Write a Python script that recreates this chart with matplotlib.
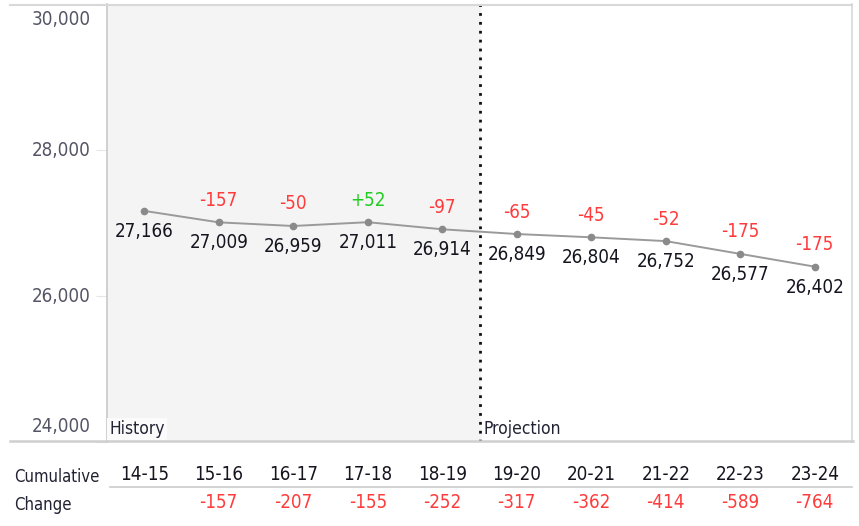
import matplotlib
matplotlib.use("Agg")
import matplotlib.pyplot as plt
from matplotlib import font_manager
from matplotlib.lines import Line2D
from matplotlib.transforms import blended_transform_factory, ScaledTranslation

years = ["14-15", "15-16", "16-17", "17-18", "18-19",
         "19-20", "20-21", "21-22", "22-23", "23-24"]
enrollment = [27166, 27009, 26959, 27011, 26914,
              26849, 26804, 26752, 26577, 26402]
change_labels = ["", "-157", "-50", "+52", "-97",
                 "-65", "-45", "-52", "-175", "-175"]
cumulative = ["", "-157", "-207", "-155", "-252",
              "-317", "-362", "-414", "-589", "-764"]
yticks = [24000, 26000, 28000, 30000]
n_history = 5

names = {f.name for f in font_manager.fontManager.ttflist}
if "Liberation Sans Narrow" in names:
    font = "Liberation Sans Narrow"
    stretch = "normal"
else:
    font = "DejaVu Sans"
    stretch = "condensed"
plt.rcParams["font.family"] = font
plt.rcParams["font.stretch"] = stretch

RED = "#ff3b3b"
GREEN = "#22cc22"
DARK = "#15151f"

fig = plt.figure(figsize=(8.59, 5.26), dpi=100)
W, H = 859, 526
ax = fig.add_axes([107 / W, 1 - 442 / H, 745 / W, 438 / H])

x = list(range(len(years)))
ax.set_xlim(-0.5, len(years) - 0.5)
ax.set_ylim(24000, 30000)

ax.axvspan(-0.5, n_history - 0.5, color="#f4f4f4", zorder=0)
ax.axvline(n_history - 0.5, color="#111111", ls=(0, (1, 2.2)), lw=2, zorder=2)

ax.plot(x, enrollment, color="#9a9a9a", lw=1.4, marker="o", ms=4.5,
        mfc="#8a8a8a", mec="#8a8a8a", zorder=3)

for i, v in enumerate(enrollment):
    ax.annotate(f"{v:,}", (i, v), xytext=(0, -8), textcoords="offset points",
                ha="center", va="top", fontsize=13.5, color=DARK)
    lab = change_labels[i]
    if lab:
        col = GREEN if lab.startswith("+") else RED
        ax.annotate(lab, (i, v), xytext=(0, 9), textcoords="offset points",
                    ha="center", va="bottom", fontsize=13.5, color=col)

ax.text(-0.47, 24000 + 60, "History", ha="left", va="bottom", fontsize=12.5,
        color="#222233", bbox=dict(facecolor="#fbfbfb", edgecolor="none", pad=1.5), zorder=4)
ax.text(n_history - 0.44, 24000 + 60, "Projection", ha="left", va="bottom",
        fontsize=12.5, color="#222233", zorder=4)

ax.set_xticks([])
ax.set_yticks(yticks)
ax.set_yticklabels([f"{t:,}" for t in yticks])
ax.tick_params(axis="y", length=8, color="#e6e6e6", labelsize=13.5,
               labelcolor="#555566", pad=4)
ticklabs = ax.get_yticklabels()
for lab in ticklabs:
    lab.set_verticalalignment("center")
ticklabs[0].set_verticalalignment("bottom")
ticklabs[0].set_transform(ticklabs[0].get_transform() +
                          ScaledTranslation(0, 6 / 100, fig.dpi_scale_trans))
ticklabs[-1].set_verticalalignment("top")
ticklabs[-1].set_transform(ticklabs[-1].get_transform() +
                           ScaledTranslation(0, -6 / 100, fig.dpi_scale_trans))

for s in ["top", "bottom"]:
    ax.spines[s].set_visible(False)
ax.spines["left"].set_color("#c8c8c8")
ax.spines["right"].set_color("#d8d8d8")
ax.spines["left"].set_linewidth(1.2)
ax.spines["right"].set_linewidth(1.2)

# horizontal frame lines reaching into the label column
fig.add_artist(Line2D([10 / W, 852 / W], [1 - 5 / H, 1 - 5 / H],
                      transform=fig.transFigure, color="#d8d8d8", lw=1.5))
fig.add_artist(Line2D([10 / W, 853 / W], [1 - 441 / H, 1 - 441 / H],
                      transform=fig.transFigure, color="#cfcfcf", lw=1.8))

# cumulative change table
tr = blended_transform_factory(ax.transData, fig.transFigure)
fig.text(14 / W, 1 - 477 / H, "Cumulative", ha="left", va="center",
         fontsize=12, color="#222233")
fig.text(14 / W, 1 - 505 / H, "Change", ha="left", va="center",
         fontsize=12, color="#222233")
for i, yr in enumerate(years):
    ax.text(i, 1 - 474 / H, yr, transform=tr, ha="center", va="center",
            fontsize=13.5, color=DARK, clip_on=False)
    if cumulative[i]:
        ax.text(i, 1 - 502 / H, cumulative[i], transform=tr, ha="center",
                va="center", fontsize=13.5, color=RED, clip_on=False)
fig.add_artist(Line2D([110 / W, 852 / W], [1 - 487 / H, 1 - 487 / H],
                      transform=fig.transFigure, color="#cccccc", lw=1.2))

fig.savefig("out.png", dpi=100)
